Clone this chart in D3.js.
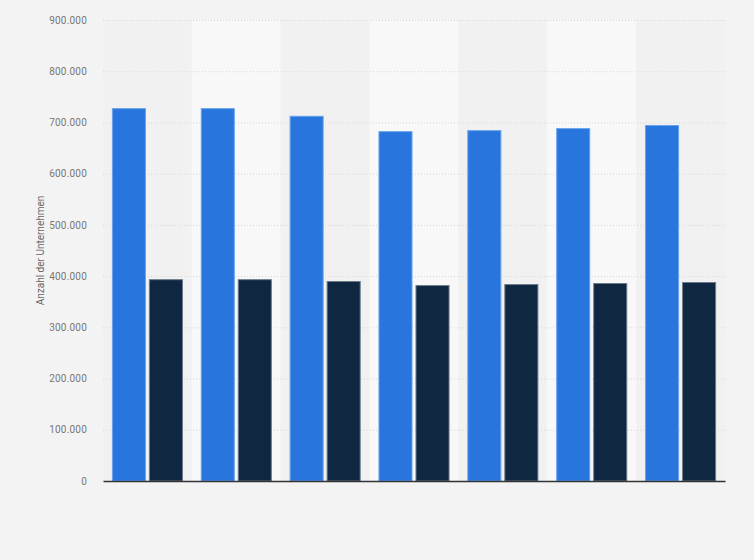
<!DOCTYPE html>
<html>
<head>
<meta charset="utf-8">
<script src="https://cdn.jsdelivr.net/npm/d3@7"></script>
<style>
  html, body { margin: 0; padding: 0; background: #f3f3f3; }
  svg { display: block; }
</style>
</head>
<body>
<div id="chart"></div>
<script>
// Werte
const categories = ['1', '2', '3', '4', '5', '6', '7'];
const seriesNames = ['Serie A', 'Serie B'];
const seriesA = [728000, 728000, 713000, 683000, 685000, 689000, 695000];
const seriesB = [394000, 394000, 390500, 382500, 384500, 386500, 388500];
const yTicks = [0, 100000, 200000, 300000, 400000, 500000, 600000, 700000, 800000, 900000];
const yLabel = 'Anzahl der Unternehmen';

const colors = ['#2876dd', '#0f2740'];
const strokes = ['#6aa3ec', '#6b7a8a'];

const W = 754, H = 560;
const margin = {top: 20, right: 29, bottom: 79, left: 103},
    width = W - margin.left - margin.right,
    height = H - margin.top - margin.bottom;

const fmt = v => d3.format(',')(v).replace(/,/g, '.');

const svg = d3.select('#chart')
    .append('svg')
    .attr('width', W).attr('height', H)
    .style('background', '#f3f3f3');

const g = svg.append('g')
    .attr('transform', `translate(${margin.left},${margin.top})`);

const x0 = d3.scaleBand()
    .domain(categories)
    .range([0, width])
    .paddingInner(0.2)
    .paddingOuter(0.1);

const x1 = d3.scaleBand()
    .domain(seriesNames)
    .range([0, x0.bandwidth()])
    .paddingInner(0.08);

const y = d3.scaleLinear()
    .domain([0, 900000])
    .range([height, 0]);

// abwechselnde Spaltenhintergründe
g.selectAll('rect.band')
    .data(categories)
    .join('rect')
    .attr('class', 'band')
    .attr('x', d => x0(d) - x0.step() * x0.paddingInner() / 2)
    .attr('y', 0)
    .attr('width', x0.step())
    .attr('height', height)
    .attr('fill', (d, i) => i % 2 ? '#f8f8f8' : '#f1f1f1');

// Gitterlinien + Beschriftung
const yAxis = g.append('g')
    .call(d3.axisLeft(y).tickValues(yTicks).tickFormat(fmt).tickSize(-width).tickPadding(16));
yAxis.select('.domain').remove();
yAxis.selectAll('.tick line')
    .attr('stroke', '#d6d6d6')
    .attr('stroke-dasharray', '1,2')
    .attr('stroke-width', 1);
yAxis.selectAll('.tick text')
    .attr('fill', '#777')
    .style('font-family', 'Roboto, sans-serif')
    .style('font-size', '10px')
    .style('letter-spacing', '0.2px');
yAxis.selectAll('.tick').filter(d => d === 0).select('line').remove();

svg.append('text')
    .attr('transform', `translate(44,${margin.top + height / 2}) rotate(-90)`)
    .attr('text-anchor', 'middle')
    .attr('fill', '#666')
    .style('font-family', 'Roboto, sans-serif')
    .style('font-size', '10px')
    .text(yLabel);

const data = categories.map((c, i) => ({cat: c, values: [seriesA[i], seriesB[i]]}));

g.selectAll('g.group')
    .data(data)
    .join('g')
    .attr('class', 'group')
    .attr('transform', d => `translate(${x0(d.cat)},0)`)
    .selectAll('rect')
    .data(d => d.values.map((v, k) => ({name: seriesNames[k], value: v, k: k})))
    .join('rect')
    .attr('x', d => x1(d.name) + 0.5)
    .attr('y', d => y(d.value) + 0.5)
    .attr('width', x1.bandwidth() - 1)
    .attr('height', d => height - y(d.value) - 0.5)
    .attr('fill', d => colors[d.k])
    .attr('stroke', d => strokes[d.k])
    .attr('stroke-width', 1);

// x-Achse (ohne Beschriftung)
const xAxis = g.append('g')
    .attr('transform', `translate(0,${height})`)
    .call(d3.axisBottom(x0).tickSize(0).tickFormat(''));
xAxis.select('.domain')
    .attr('stroke', '#333')
    .attr('stroke-width', 1.5);
</script>
</body>
</html>
